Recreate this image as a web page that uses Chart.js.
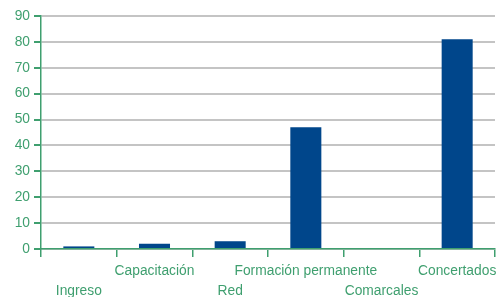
<!DOCTYPE html>
<html><head><meta charset="utf-8">
<script src="https://cdn.jsdelivr.net/npm/chart.js@4/dist/chart.umd.min.js"></script>
<style>html,body{margin:0;padding:0;background:#fff}#w{width:499px;height:297px}</style>
</head><body><div id="w"><canvas id="c"></canvas></div>
<script>
const categories = ['Ingreso','Capacitación','Red','Formación permanente','Comarcales','Concertados'];
const values = [1, 2, 3, 47, 0, 81];
const yTicks = [0,10,20,30,40,50,60,70,80,90];
const green = '#3f9f6f';
const font = {family:'"Liberation Sans", Arial, sans-serif', size:13.8, lineHeight:1.4};
new Chart(document.getElementById('c'), {
  type:'bar',
  data:{labels:categories, datasets:[{data:values, backgroundColor:'#00468b', barPercentage:0.82, categoryPercentage:0.5}]},
  options:{
    responsive:true, maintainAspectRatio:false, animation:false,
    devicePixelRatio:1,
    layout:{padding:{top:16, right:4, left:0, bottom:0}},
    plugins:{legend:{display:false}, tooltip:{enabled:false}},
    scales:{
      x:{
        grid:{display:true, drawOnChartArea:false, offset:true, color:green, tickColor:green, tickLength:8, lineWidth:1.5},
        border:{color:green, width:1.5},
        ticks:{color:green, font:font, maxRotation:0, autoSkip:false, padding:5,
          callback:function(v,i){ const l=categories[i]; return i%2===0 ? ['', l] : [l, '']; }},
        afterFit:function(s){ s.height = 48; s.paddingRight = 0; s.paddingLeft = 0; }
      },
      y:{
        min:0, max:90,
        afterBuildTicks:function(s){ s.ticks = yTicks.map(v=>({value:v})); },
        grid:{color:'#c4c4c4', lineWidth:2, tickColor:green, tickLength:7, drawTicks:true},
        border:{color:green, width:1.5},
        ticks:{color:green, font:font, padding:4},
        afterFit:function(s){ s.width = 41; s.paddingTop = 0; s.paddingBottom = 0; }
      }
    }
  }
});
</script></body></html>
